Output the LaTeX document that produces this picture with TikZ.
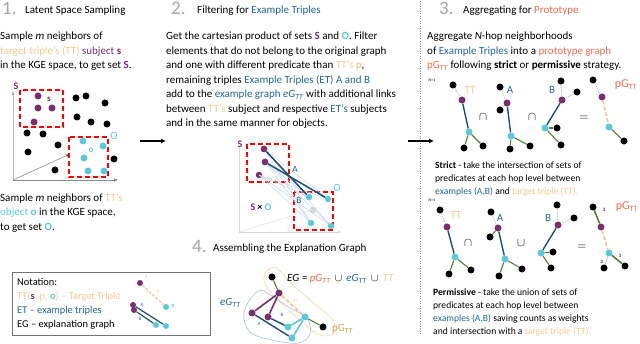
\documentclass[tikz,border=0pt]{standalone}
\usepackage{fontspec}
\setmainfont{Carlito}
\usetikzlibrary{arrows.meta}
\definecolor{cpur}{HTML}{7B2D6E}
\definecolor{ccya}{HTML}{5BC8DC}
\definecolor{ctan}{HTML}{F4C98F}
\definecolor{cblu}{HTML}{22679A}
\definecolor{cdblu}{HTML}{1F4E79}
\definecolor{corg}{HTML}{F26B50}
\definecolor{cgrn}{HTML}{548235}
\definecolor{cgry}{HTML}{A6A6A6}
\definecolor{cgold}{HTML}{D6A246}
\definecolor{cltb}{HTML}{BDD7EE}
\definecolor{cpink}{HTML}{F08CD8}
\begin{document}
\begin{tikzpicture}[x=1pt,y=-1pt,
 tx/.style={anchor=base west, inner sep=0pt, font=\fontsize{11}{13}\selectfont},
 sm/.style={anchor=base west, inner sep=0pt, font=\fontsize{9.6}{12}\selectfont},
 nt/.style={anchor=base west, inner sep=0pt, font=\fontsize{10.4}{12}\selectfont},
 num/.style={anchor=base west, inner sep=0pt, font=\fontsize{19}{20}\selectfont, text=cgry},
 lab/.style={inner sep=0pt, font=\fontsize{11}{13}\selectfont},
 tiny/.style={inner sep=0pt, font=\fontsize{5}{6}\selectfont},
 sym/.style={inner sep=0pt, font=\fontsize{13}{14}\selectfont},
 bd/.style={circle, fill=black, inner sep=0pt, minimum size=7pt},
 pd/.style={bd, fill=cpur},
 cd/.style={bd, fill=ccya},
 gd/.style={bd, fill=black!15},
 bds/.style={bd, minimum size=6pt},
 pds/.style={pd, minimum size=6pt},
 cds/.style={cd, minimum size=6pt},
 redbox/.style={draw=red, line width=1.4pt, dash pattern=on 5pt off 3pt},
 eh/.style={draw=black!30, line width=0.6pt, dash pattern=on 1.5pt off 1pt},
 eb/.style={draw=cdblu, line width=1.4pt},
 eg/.style={draw=cgrn, line width=1.1pt},
 et/.style={draw=ctan, line width=1.8pt, dash pattern=on 4pt off 2pt},
 ax/.style={draw=black!45, line width=0.6pt, -{Latex[length=4pt,width=3pt]}},
 bigarrow/.style={draw=black, line width=1.2pt, -{Latex[length=5pt,width=5pt]}},
]
\useasboundingbox (0,0) rectangle (640,344);

% ---------------- Section 1 ----------------
\node[num] (n1) at (2,15) {1.};
\node[tx] (t1) at (25,13.5) {Latent Space Sampling};
\node[tx] (p1a) at (0,40) {Sample \textit{m} neighbors of};
\node[tx] (p1b) at (0,54.5) {\textcolor{ctan}{target triple's (TT)} \textcolor{cpur}{subject \textbf{s}}};
\node[tx] (p1c) at (0,69) {in the KGE space, to get set \textcolor{cpur}{\textbf{S}}.};

\coordinate (o1) at (13,180);
\coordinate (o1y) at (13,91);
\coordinate (o1x) at (118,180);
\coordinate (o1d) at (70,154);
\draw[ax, draw=black!25, -{Latex[length=4pt,width=3.5pt,fill=black]}] (o1) -- (o1y);
\draw[ax, -{Latex[length=4pt,width=3.5pt,fill=black]}] (o1) -- (o1x);
\draw[ax, -{Latex[length=4pt,width=3.5pt,fill=black]}] (o1) -- (o1d);

\draw[redbox] (20,90) rectangle (63,127);
\draw[redbox] (69,137) rectangle (108,177);

\node[pd] (a1) at (38,96) {};
\node[pd] (a2) at (38,108) {};
\node[pd] (a3) at (52,108) {};
\node[pd] (a4) at (34,122) {};
\node[bd] (b1) at (76,98) {};
\node[bd] (b2) at (86,96) {};
\node[bd] (b3) at (105,103) {};
\node[bd] (b4) at (77,117) {};
\node[bd] (b5) at (91,122) {};
\node[bd] (b6) at (107,124) {};
\node[bd] (b7) at (27,133) {};
\node[bd] (b8) at (43,134) {};
\node[bd] (b9) at (58,145) {};
\node[bd] (b10) at (28,152) {};
\node[bd] (b11) at (114,159) {};
\node[bd] (b12) at (55,170) {};
\node[cd] (c1) at (83,141) {};
\node[cd] (c2) at (103,146) {};
\node[cd] (c3) at (84,158) {};
\node[cd] (c4) at (88,171) {};
\node[cd] (c5) at (104,171) {};
\node[lab, text=cpur, font=\fontsize{9}{10}\selectfont\bfseries] (ls) at (49,99) {s};
\node[lab, text=ccya, font=\fontsize{9}{10}\selectfont\bfseries] (lo) at (91,150) {o};
\node[lab, text=cpur, font=\fontsize{10}{11}\selectfont\bfseries] (lS) at (16,86) {S};
\node[lab, text=ccya, font=\fontsize{11}{12}\selectfont] (lO) at (114,136) {O};

\node[tx] (q1a) at (0,202) {Sample \textit{m} neighbors of \textcolor{ctan}{TT's}};
\node[tx] (q1b) at (0,216) {\textcolor{ccya}{object \textbf{o}} in the KGE space,};
\node[tx] (q1c) at (0,230.5) {to get set \textcolor{ccya}{\textbf{O}}.};

\coordinate (ar1s) at (140,141);
\coordinate (ar1e) at (166,141);
\draw[bigarrow] (ar1s) -- (ar1e);

% ---------------- Section 2 ----------------
\node[num] (n2) at (171,15) {2.};
\node[tx] (t2) at (197,13.5) {Filtering for \textcolor{cblu}{Example Triples}};
\node[tx] (r1) at (166,40) {Get the cartesian product of sets \textcolor{cpur}{\textbf{S}} and \textcolor{ccya}{\textbf{O}}. Filter};
\node[tx] (r2) at (166,54.5) {elements that do not belong to the original graph};
\node[tx] (r3) at (166,69) {and one with different predicate than \textcolor{ctan}{TT's \textbf{p}},};
\node[tx] (r4) at (166,83.5) {remaining triples \textcolor{cblu}{Example Triples (ET) A and B}};
\node[tx] (r5) at (166,98) {add to the \textcolor{cblu}{example graph \textit{eG}\textsubscript{\textit{TT}}} with additional links};
\node[tx] (r6) at (166,112.5) {between \textcolor{ctan}{TT's} subject and respective \textcolor{cblu}{ET's} subjects};
\node[tx] (r7) at (166,127) {and in the same manner for objects.};

\coordinate (o2) at (239,232);
\coordinate (o2y) at (239,146);
\coordinate (o2x) at (342,232);
\coordinate (o2d) at (317,208);
\draw[draw=black!15, line width=0.6pt] (o2) -- (o2y);
\draw[draw=black!15, line width=0.6pt, -{Latex[length=4pt,width=3pt]}] (o2) -- (o2x);
\draw[draw=black!12, line width=0.6pt] (o2) -- (o2d);

\draw[redbox] (247,144) rectangle (289,182);
\draw[redbox] (294,192) rectangle (333,230);

\node[pd, minimum size=6.5pt] (sa) at (264,149) {};
\node[pd, minimum size=6.5pt] (sb) at (265,162) {};
\node[pd, minimum size=6.5pt] (sc) at (259,175) {};
\node[gd, minimum size=6.5pt] (og) at (313,210) {};
\foreach \s in {sa,sb,sc}{
  \foreach \o/\p in {oa/{(309,197)},ob/{(328,199)},oc/{(311,223)},od/{(331,226)}}{
    \draw[draw=cltb, line width=0.5pt] (\s.center) -- \p;
  }
}
\node[cd, minimum size=6.5pt] (oa) at (309,197) {};
\node[cd, minimum size=6.5pt] (ob) at (328,199) {};
\node[cd, minimum size=6.5pt] (oc) at (311,223) {};
\node[cd, minimum size=6.5pt] (od) at (331,226) {};
\draw[eb, line width=1.5pt] (sa) -- (oa);
\draw[eb, line width=1.5pt] (sb) -- (ob);
\node[pd, minimum size=6.5pt] at (264,149) {};
\node[pd, minimum size=6.5pt] at (265,162) {};
\node[lab, text=cpur, font=\fontsize{10}{11}\selectfont\bfseries] (lS2) at (240,144) {S};
\node[lab, text=ccya, font=\fontsize{11}{12}\selectfont] (lO2) at (337,188) {O};
\node[lab, text=cblu, font=\fontsize{9.5}{11}\selectfont] (lA2) at (295,169) {A};
\node[lab, text=cblu, font=\fontsize{9.5}{11}\selectfont] (lB2) at (299,200) {B};
\node[lab, font=\fontsize{10}{11}\selectfont] (lSO) at (261,207) {\textcolor{cpur}{\textbf{S}} \textbf{\texttimes} \textcolor{ccya}{\textbf{O}}};

% ---------------- Section 4 ----------------
\node[num] (n4) at (192,253) {4.};
\node[tx] (t4) at (213,252) {Assembling the Explanation Graph};

\draw[draw=ctan!80, line width=0.6pt] plot[smooth cycle, tension=0.6] coordinates {(266,272) (276,268) (290,282) (312,302) (332,319) (334,333) (320,335) (300,320) (280,302) (265,284)};
\draw[draw=cltb!80!cblu, line width=0.6pt] plot[smooth cycle, tension=0.6] coordinates {(258,291) (272,296) (290,308) (307,318) (310,334) (298,343) (272,340) (250,332) (244,312)};

\node[bd] (e1) at (272,277) {};
\node[pd] (e2) at (279,293) {};
\node[pd] (e3) at (252,313) {};
\node[pd] (e4) at (268,317) {};
\node[cd] (e5) at (305,317) {};
\node[cd] (e6) at (288,327) {};
\node[cd] (e7) at (292,338) {};
\node[bd] (e8) at (323,327) {};
\draw[eg] (e1) -- (e2);
\draw[draw=cpur, line width=1.6pt] (e2) -- (e3);
\draw[draw=cpur, line width=1.6pt] (e2) -- (e4);
\draw[eb] (e3) -- (e7);
\draw[eb] (e4) -- (e6);
\draw[draw=ccya, line width=1.6pt] (e5) -- (e6);
\draw[draw=ccya, line width=1.6pt] (e5) -- (e7);
\draw[eg] (e5) -- (e8);
\draw[et] (e2) -- (e5);
\node[tiny, text=cblu] (eA) at (259,324) {A};
\node[tiny, text=cblu] (eB) at (282,315) {B};
\node[tiny, text=ctan] (eT) at (296,301) {TT};
\node[lab, anchor=base west, font=\fontsize{11}{13}\selectfont\itshape] (eq) at (287,281.5) {EG = \textcolor{corg}{pG\textsubscript{TT}} \,$\cup$\, \textcolor{cblu}{eG\textsubscript{TT}} \,$\cup$\, \textcolor{ctan}{TT}};
\node[lab, anchor=base west, text=cblu, font=\fontsize{11}{13}\selectfont\itshape] (leG) at (220,306) {eG\textsubscript{TT}};
\node[lab, anchor=base west, text=cgold] (lpG) at (332,332) {pG\textsubscript{TT}};

% Notation box
\node[draw=black!55, line width=0.8pt, minimum width=198pt, minimum height=63pt, inner sep=0pt, anchor=north west] (nb) at (12,272) {};
\node[nt] (nt1) at (17,285.5) {Notation:};
\node[nt] (nt2) at (17,299.5) {\textcolor{ctan}{TT(}\textcolor{cpur}{\textbf{s}}\textcolor{ctan}{, p, }\textcolor{ccya}{\textbf{o}}\textcolor{ctan}{) -- Target Triple}};
\node[nt, text=cblu] (nt3) at (17,313.5) {ET -- example triples};
\node[nt] (nt4) at (17,327.5) {EG -- explanation graph};
\node[pds] (x1) at (140,283) {};
\node[cds] (x2) at (166,307) {};
\draw[et, line width=1.3pt, dash pattern=on 3pt off 1.5pt] (x1) -- (x2);
\node[pds] (x3) at (133,305) {};
\node[pds] (x4) at (134,310) {};
\node[cds] (x5) at (156,325) {};
\node[cds] (x6) at (166,326) {};
\draw[eb, line width=1.2pt] (x3) -- (x6);
\draw[eb, line width=1.2pt] (x4) -- (x5);
\node[tiny, text=cpink] (xs) at (146,277) {s};
\node[tiny, text=ctan] (xp) at (158,292) {p};
\node[tiny, text=ccya, font=\fontsize{6}{7}\selectfont\bfseries] (xo) at (173,306) {o};
\node[tiny, text=cblu] (xA) at (142,305) {A};
\node[tiny, text=cblu] (xB) at (140,319) {B};

% ---------------- Section 3 ----------------
\coordinate (sepT) at (420,1);
\coordinate (sepB) at (420,334);
\draw[draw=black!45, line width=0.6pt, dash pattern=on 1pt off 1.5pt] (sepT) -- (sepB);
\coordinate (ar2s) at (408,141);
\coordinate (ar2e) at (434,141);
\draw[bigarrow] (ar2s) -- (ar2e);

\node[num] (n3) at (439,15) {3.};
\node[tx] (t3) at (463,13.5) {Aggregating for \textcolor{corg}{Prototype}};
\node[tx] (u1) at (427,40) {Aggregate \textit{N}-hop neighborhoods};
\node[tx] (u2) at (427,54.5) {of \textcolor{cblu}{Example Triples} into a \textcolor{corg}{prototype graph}};
\node[tx] (u3) at (427,69) {\textcolor{corg}{pG\textsubscript{TT}} following \textbf{strict} or \textbf{permissive} strategy.};

% strict
\node[tiny, font=\fontsize{4}{5}\selectfont] (N1a) at (432,80) {N=1};
\node[bd] (sTk1) at (453,85) {};
\node[pd] (sTp) at (462,100) {};
\node[cd] (sTc) at (469,132) {};
\node[bd] (sTk2) at (464,148) {};
\node[bd] (sTk3) at (483,146) {};
\draw[eh] (sTk1) -- (sTp); \draw[eb] (sTp) -- (sTc);
\draw[eg] (sTc) -- (sTk2); \draw[eg] (sTc) -- (sTk3);
\node[lab, text=ctan] (sTl) at (470,90) {TT};
\node[sym] (sI1) at (483,117) {$\cap$};

\node[bd] (sAk1) at (500,87) {};
\node[pd] (sAp) at (507,103) {};
\node[bd] (sAk2) at (500,110) {};
\node[cd] (sAc) at (511,136) {};
\node[bd] (sAk3) at (510,149) {};
\node[bd] (sAk4) at (530,146) {};
\draw[eh] (sAk1) -- (sAp); \draw[eh] (sAp) -- (sAk2); \draw[eb] (sAp) -- (sAc);
\draw[eg] (sAc) -- (sAk3); \draw[eg] (sAc) -- (sAk4);
\node[lab, text=cblu] (sAl) at (510,90) {A};
\node[sym] (sI2) at (532,117) {$\cap$};

\node[bd] (sBk1) at (561,81) {};
\node[bd] (sBk2) at (577,92) {};
\node[pd] (sBp) at (562,100) {};
\node[cd] (sBc) at (545,128) {};
\node[bd] (sBk3) at (557,128) {};
\node[bd] (sBk4) at (561,145) {};
\draw[eh] (sBk1) -- (sBp); \draw[eh] (sBk2) -- (sBp); \draw[eb] (sBp) -- (sBc);
\draw[eg] (sBc) -- (sBk3); \draw[eg] (sBc) -- (sBk4);
\node[lab, text=cblu] (sBl) at (552,90) {B};
\node[sym] (sEq) at (584,118) {$=$};

\node[bd] (sPk1) at (593,80) {};
\node[pd] (sPp) at (602,97) {};
\node[cd] (sPc) at (609,127) {};
\node[bd] (sPk2) at (624,141) {};
\draw[eh] (sPk1) -- (sPp); \draw[et] (sPp) -- (sPc); \draw[eg] (sPc) -- (sPk2);
\node[lab, text=corg, font=\fontsize{12}{13}\selectfont] (sPl) at (626,85) {pG\textsubscript{TT}};

\node[sm] (v1) at (435,168.5) {\textbf{Strict} - take the intersection of sets of};
\node[sm] (v2) at (435,181.5) {predicates at each hop level between};
\node[sm] (v3) at (435,194.5) {\textcolor{cblu}{examples (A,B)} and \textcolor{ctan}{target triple (TT).}};

% permissive
\node[tiny, font=\fontsize{4}{5}\selectfont] (N1b) at (432,200) {N=1};
\node[bd] (pTk1) at (440,210) {};
\node[pd] (pTp) at (447,227) {};
\node[cd] (pTc) at (455,257) {};
\node[bd] (pTk2) at (449,274) {};
\node[bd] (pTk3) at (471,270) {};
\draw[eh] (pTk1) -- (pTp); \draw[eb] (pTp) -- (pTc);
\draw[eg] (pTc) -- (pTk2); \draw[eg] (pTc) -- (pTk3);
\node[lab, text=ctan] (pTl) at (456,215) {TT};
\node[sym] (pI1) at (468,243) {$\cap$};

\node[bd] (pAk1) at (491,212) {};
\node[pd] (pAp) at (498,228) {};
\node[bd] (pAk2) at (490,237) {};
\node[cd] (pAc) at (505,259) {};
\node[bd] (pAk3) at (499,276) {};
\node[bd] (pAk4) at (522,269) {};
\draw[eh] (pAk1) -- (pAp); \draw[eg] (pAp) -- (pAk2); \draw[eb] (pAp) -- (pAc);
\draw[eg] (pAc) -- (pAk3); \draw[eg] (pAc) -- (pAk4);
\node[lab, text=cblu] (pAl) at (500,218) {A};
\node[sym] (pU1) at (521,243) {$\cup$};

\node[bd] (pBk1) at (557,205) {};
\node[bd] (pBk2) at (574,218) {};
\node[pd] (pBp) at (558,225) {};
\node[cd] (pBc) at (541,253) {};
\node[bd] (pBk3) at (553,252) {};
\node[bd] (pBk4) at (551,268) {};
\draw[eh] (pBk1) -- (pBp); \draw[eh] (pBk2) -- (pBp); \draw[eb] (pBp) -- (pBc);
\draw[eg] (pBc) -- (pBk3); \draw[eg] (pBc) -- (pBk4);
\node[lab, text=cblu] (pBl) at (548,218) {B};
\node[sym] (pEq) at (582,247) {$=$};

\node[bd] (pPk1) at (593,207) {};
\node[pd] (pPp) at (601,227) {};
\node[cd] (pPc) at (609,253) {};
\node[bd] (pPk2) at (604,268) {};
\node[bd] (pPk3) at (625,266) {};
\draw[eg, line width=1.6pt] (pPk1) -- (pPp); \draw[et] (pPp) -- (pPc);
\draw[draw=black!30, line width=0.6pt] (pPc) -- (pPk2); \draw[eg, line width=1.6pt] (pPc) -- (pPk3);
\node[tiny] (w1) at (604,210) {3};
\node[tiny] (w2) at (602,262) {2};
\node[tiny] (w3) at (620,256) {3};
\node[lab, text=corg, font=\fontsize{12}{13}\selectfont] (pPl) at (627,207) {pG\textsubscript{TT}};

\node[sm] (y1) at (433,295.5) {\textbf{Permissive} - take the union of sets of};
\node[sm] (y2) at (433,308.5) {predicates at each hop level between};
\node[sm] (y3) at (433,321.5) {\textcolor{cblu}{examples (A,B)} saving counts as weights};
\node[sm] (y4) at (433,334.5) {and intersection with a \textcolor{ctan}{target triple (TT).}};
\end{tikzpicture}
\end{document}
